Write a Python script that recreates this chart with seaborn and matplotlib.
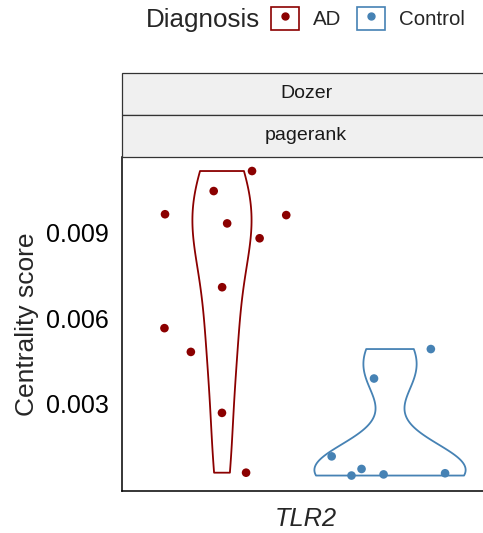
import numpy as np
import pandas as pd
import matplotlib
matplotlib.use("Agg")
import matplotlib.pyplot as plt
import seaborn as sns
from matplotlib.patches import Rectangle
from matplotlib.lines import Line2D
from matplotlib.legend_handler import HandlerTuple

# ---- data -------------------------------------------------------------
diagnosis_levels = ["AD", "Control"]
ad_scores = [0.00963, 0.00879, 0.01044, 0.01114, 0.00960, 0.00931,
             0.00708, 0.00565, 0.00482, 0.00269, 0.00060]
control_scores = [0.00492, 0.00389, 0.00117, 0.00073, 0.00058, 0.00050, 0.00054]
gene = "TLR2"
method = "Dozer"
metric = "pagerank"
y_ticks = [0.003, 0.006, 0.009]
palette = {"AD": "#8B0000", "Control": "#4682B4"}

df = pd.DataFrame({
    "Diagnosis": ["AD"] * len(ad_scores) + ["Control"] * len(control_scores),
    "score": ad_scores + control_scores,
})


def nrd0(kde):
    """Silverman's rule of thumb (R's bw.nrd0) as a scale factor on the sd."""
    x = np.asarray(kde.dataset).ravel()
    sd = np.std(x, ddof=1)
    q75, q25 = np.percentile(x, [75, 25])
    lo = min(sd, (q75 - q25) / 1.34)
    bw = 0.9 * lo * len(x) ** -0.2
    return bw / sd


# ---- style ------------------------------------------------------------
sns.set_style("white")
plt.rcParams["font.family"] = ["Liberation Sans", "DejaVu Sans"]

W, H = 483, 533
fig = plt.figure(figsize=(W / 100, H / 100), dpi=100)

# panel in pixel geometry
px_left, px_right, px_top, px_bottom = 122, 490, 157, 491
ax = fig.add_axes([px_left / W, 1 - px_bottom / H,
                   (px_right - px_left) / W, (px_bottom - px_top) / H])

sns.violinplot(data=df, x="Diagnosis", y="score", hue="Diagnosis",
               order=diagnosis_levels, hue_order=diagnosis_levels,
               palette=palette, fill=False, inner=None, cut=0,
               density_norm="area", common_norm=True, bw_method=nrd0,
               width=0.9, linewidth=1.3, legend=False, ax=ax)

np.random.seed(7)
sns.stripplot(data=df, x="Diagnosis", y="score", hue="Diagnosis",
              order=diagnosis_levels, hue_order=diagnosis_levels,
              palette=palette, jitter=0.4, size=6.2, linewidth=0,
              legend=False, ax=ax, zorder=3)

ax.set_xlim(-0.595, 1.595)
ax.set_ylim(-0.00004, 0.01163)
ax.set_yticks(y_ticks)
ax.set_yticklabels([f"{t:.3f}" for t in y_ticks])
ax.set_xticks([0, 1])
ax.set_xticklabels(["", ""])
ax.set_xlabel(gene, fontsize=18.3, style="italic", labelpad=2)
ax.set_ylabel("Centrality score", fontsize=19, labelpad=5)
ax.tick_params(axis="both", length=4.5, width=1.1, color="#333333",
               labelsize=18, pad=5, labelcolor="black")
for side in ["top", "right"]:
    ax.spines[side].set_visible(False)
for side in ["left", "bottom"]:
    ax.spines[side].set_linewidth(1.1)
    ax.spines[side].set_color("black")

# ---- facet strips -------------------------------------------------------
strips = [(method, 73, 114.5), (metric, 114.5, 156.5)]
for label, top, bottom in strips:
    fig.patches.append(Rectangle((px_left / W, 1 - bottom / H),
                                 (px_right - px_left) / W, (bottom - top) / H,
                                 transform=fig.transFigure, facecolor="#F0F0F0",
                                 edgecolor="#333333", linewidth=0.9, zorder=2))
    fig.text((px_left + px_right) / 2 / W, 1 - (top + bottom) / 2 / H, label,
             fontsize=14, color="#1A1A1A", ha="center", va="center")

# ---- legend -------------------------------------------------------------
handles = [
    (Rectangle((0, 0), 1, 1, facecolor="white", edgecolor=palette[d], linewidth=1.2),
     Line2D([], [], marker="o", linestyle="none", color=palette[d], markersize=5))
    for d in diagnosis_levels
]
fig.legend(handles, diagnosis_levels, handler_map={tuple: HandlerTuple(ndivide=1)},
           ncol=2, frameon=False, fontsize=14.8, handlelength=1.37,
           handleheight=1.41, handletextpad=0.68, columnspacing=0.73,
           borderpad=0, borderaxespad=0, loc="center left",
           bbox_to_anchor=(271 / W, 1 - 18.5 / H))
fig.text(146 / W, 1 - 20 / H, "Diagnosis", fontsize=18.7, ha="left", va="center")

fig.savefig("out.png", dpi=100)
